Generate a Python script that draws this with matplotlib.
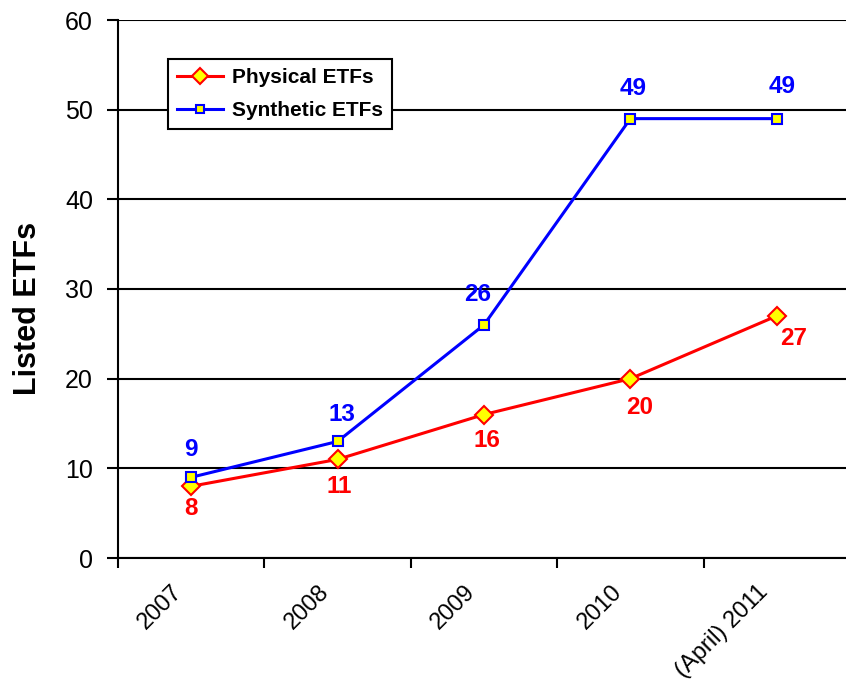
import matplotlib.pyplot as plt
from matplotlib.transforms import ScaledTranslation

plt.rcParams['font.family'] = ['Liberation Sans', 'DejaVu Sans']

# Number of listed ETFs by year
years = ['2007', '2008', '2009', '2010', '(April) 2011']
physical = [8, 11, 16, 20, 27]
synthetic = [9, 13, 26, 49, 49]

fig = plt.figure(figsize=(8.46, 6.9), dpi=100)
ax = fig.add_axes([118 / 846, 132 / 690, 732 / 846, 538 / 690])

x = list(range(len(years)))

ax.plot(x, physical, color='red', lw=2.2, marker='D', ms=9.5,
        mfc='yellow', mec='red', mew=1.5, label='Physical ETFs', zorder=4)
ax.plot(x, synthetic, color='blue', lw=2.2, marker='s', ms=6.5,
        mfc='yellow', mec='blue', mew=1.5, label='Synthetic ETFs', zorder=4)

# value labels
red_offsets = [(0, -16), (1, -19.5), (2, -19), (6.5, -21), (12, -16)]
blue_offsets = [(0, 20), (3, 19.5), (-4.5, 22), (2, 21.5), (3.5, 23)]
for i, v in enumerate(physical):
    ax.annotate(str(v), (i, v), xytext=red_offsets[i], textcoords='offset points',
                ha='center', va='center', color='red', fontsize=17.5, fontweight='bold')
for i, v in enumerate(synthetic):
    ax.annotate(str(v), (i, v), xytext=blue_offsets[i], textcoords='offset points',
                ha='center', va='center', color='blue', fontsize=17.5, fontweight='bold')

ax.set_xlim(-0.5, len(years) - 0.5)
ax.set_ylim(0, 60)
ax.set_yticks(range(0, 61, 10))
ax.tick_params(axis='y', labelsize=18, length=8, width=1.5, pad=10)

# category boundaries as ticks, labels at category centres
ax.set_xticks([i - 0.5 for i in range(len(years) + 1)])
ax.set_xticklabels([])
ax.set_xticks(x, minor=True)
ax.set_xticklabels(years, minor=True, rotation=45, ha='right', va='center',
                   rotation_mode='anchor', fontsize=17)
ax.tick_params(axis='x', which='major', length=7, width=1.5)
ax.tick_params(axis='x', which='minor', length=0, pad=22)
shift = ScaledTranslation(-12 / 100, 0, fig.dpi_scale_trans)
for lbl in ax.get_xticklabels(minor=True):
    lbl.set_transform(lbl.get_transform() + shift)

ax.grid(axis='y', color='black', lw=1.5)
ax.set_axisbelow(True)
for side in ['top', 'right']:
    ax.spines[side].set_visible(False)
for side in ['left', 'bottom']:
    ax.spines[side].set_linewidth(1.5)

ax.set_ylabel('Listed ETFs', fontsize=22, fontweight='bold')
ax.yaxis.set_label_coords(43 / 846, (690 - 308) / 690, transform=fig.transFigure)

leg = ax.legend(loc='upper left', bbox_to_anchor=(168 / 846, (690 - 59) / 690),
                bbox_transform=fig.transFigure, fancybox=False,
                framealpha=1, edgecolor='black', prop={'size': 15, 'weight': 'bold'},
                handlelength=2.2, handletextpad=0.4, borderpad=0.45,
                labelspacing=0.65, borderaxespad=0, markerscale=0.85)
leg.get_frame().set_linewidth(1.5)

fig.savefig('out.png', dpi=100)
